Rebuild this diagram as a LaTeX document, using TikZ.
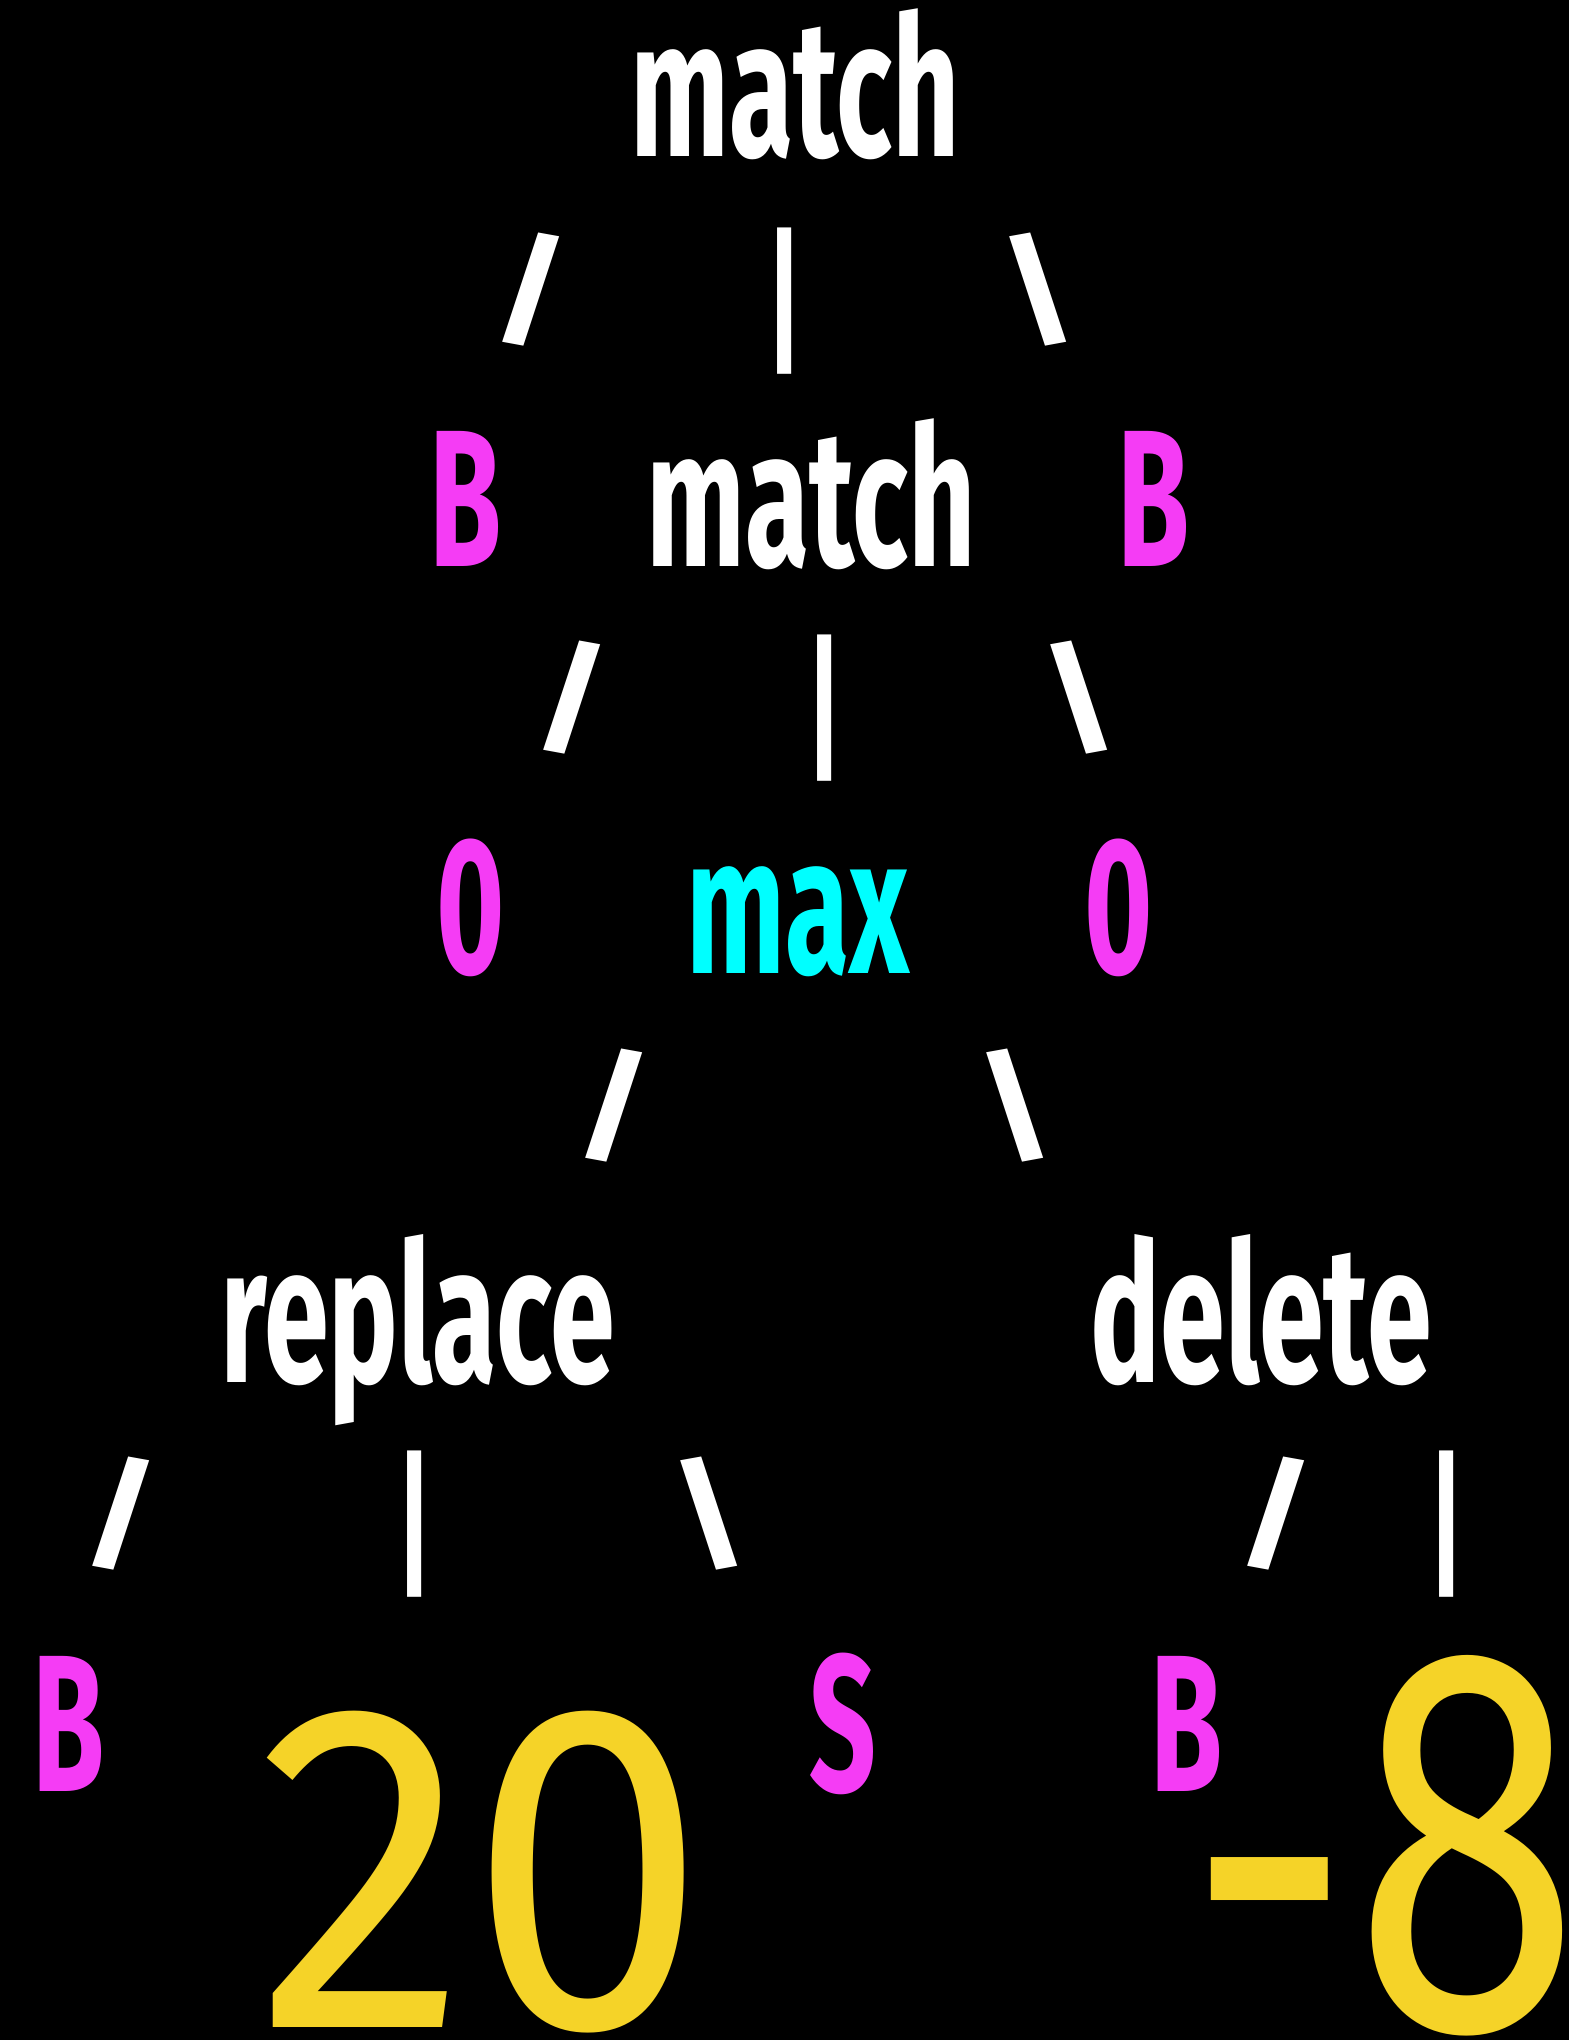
\documentclass[tikz,border=0pt]{standalone}
\usepackage{fontspec}
\usepackage{tikz}
\newfontfamily\treefont{Fira Sans}[FakeStretch=0.6]
\newfontfamily\slashfont{Fira Sans}[FakeStretch=1.25]
\newfontfamily\wideNumfont{Fira Sans}[FakeStretch=0.92]
\newfontfamily\narrowNumfont{Fira Sans}[FakeStretch=0.75]
\definecolor{TreeMagenta}{HTML}{F53CF5}
\definecolor{TreeCyan}{HTML}{00FFFF}
\definecolor{TreeYellow}{HTML}{F5D328}
\tikzset{
  opword/.style={text=white, anchor=base, inner sep=0pt, font=\treefont\bfseries\fontsize{195}{195}\selectfont},
  leafword/.style={opword, text=TreeMagenta},
  linkmark/.style={text=white, anchor=center, inner sep=0pt, font=\slashfont\bfseries\fontsize{122}{122}\selectfont},
  barmark/.style={text=white, anchor=center, inner sep=0pt, font=\treefont\bfseries\fontsize{160}{160}\selectfont},
  bignum/.style={text=TreeYellow, anchor=base, inner sep=0pt}
}

\begin{document}
\begin{tikzpicture}[x=1pt, y=-1pt]
\fill[black] (0,0) rectangle (1569,2040);
\useasboundingbox (0,0) rectangle (1569,2040);
% top level
\node[opword] (top) at (795,156) {match};
\node[linkmark] (topL) at (531,290) {/};
\node[barmark] (topM) at (785,301) {|};
\node[linkmark] (topR) at (1038,290) {\textbackslash};
% second level
\node[leafword] (bL) at (466,566) {B};
\node[opword] (inner) at (811,566) {match};
\node[leafword] (bR) at (1154,566) {B};
\node[linkmark] (innerL) at (572,698) {/};
\node[barmark] (innerM) at (825,708) {|};
\node[linkmark] (innerR) at (1079,698) {\textbackslash};
% third level
\node[leafword] (zeroL) at (471,973) {0};
\node[opword, text=TreeCyan] (max) at (798,973) {max};
\node[leafword] (zeroR) at (1119,973) {0};
\node[linkmark] (maxL) at (614,1106) {/};
\node[linkmark] (maxR) at (1015,1106) {\textbackslash};
% edits
\node[opword] (replace) at (418,1382) {replace};
\node[opword] (delete) at (1261,1382) {delete};
\node[linkmark] (repL) at (121,1514) {/};
\node[barmark] (repM) at (415,1524) {|};
\node[linkmark] (repR) at (709,1514) {\textbackslash};
\node[linkmark] (delL) at (1276,1514) {/};
\node[barmark] (delM) at (1447,1524) {|};
% leaves
\node[leafword] (repB) at (69,1791) {B};
\node[bignum, font=\wideNumfont\fontsize{466}{466}\selectfont] (repCost) at (482,2027) {20};
\node[leafword] (repS) at (843,1791) {S};
\node[leafword] (delB) at (1187,1791) {B};
\node[bignum, font=\narrowNumfont\fontsize{551}{551}\selectfont] (delCost) at (1384,2029) {\raisebox{-22pt}{-}8};
\end{tikzpicture}
\end{document}
